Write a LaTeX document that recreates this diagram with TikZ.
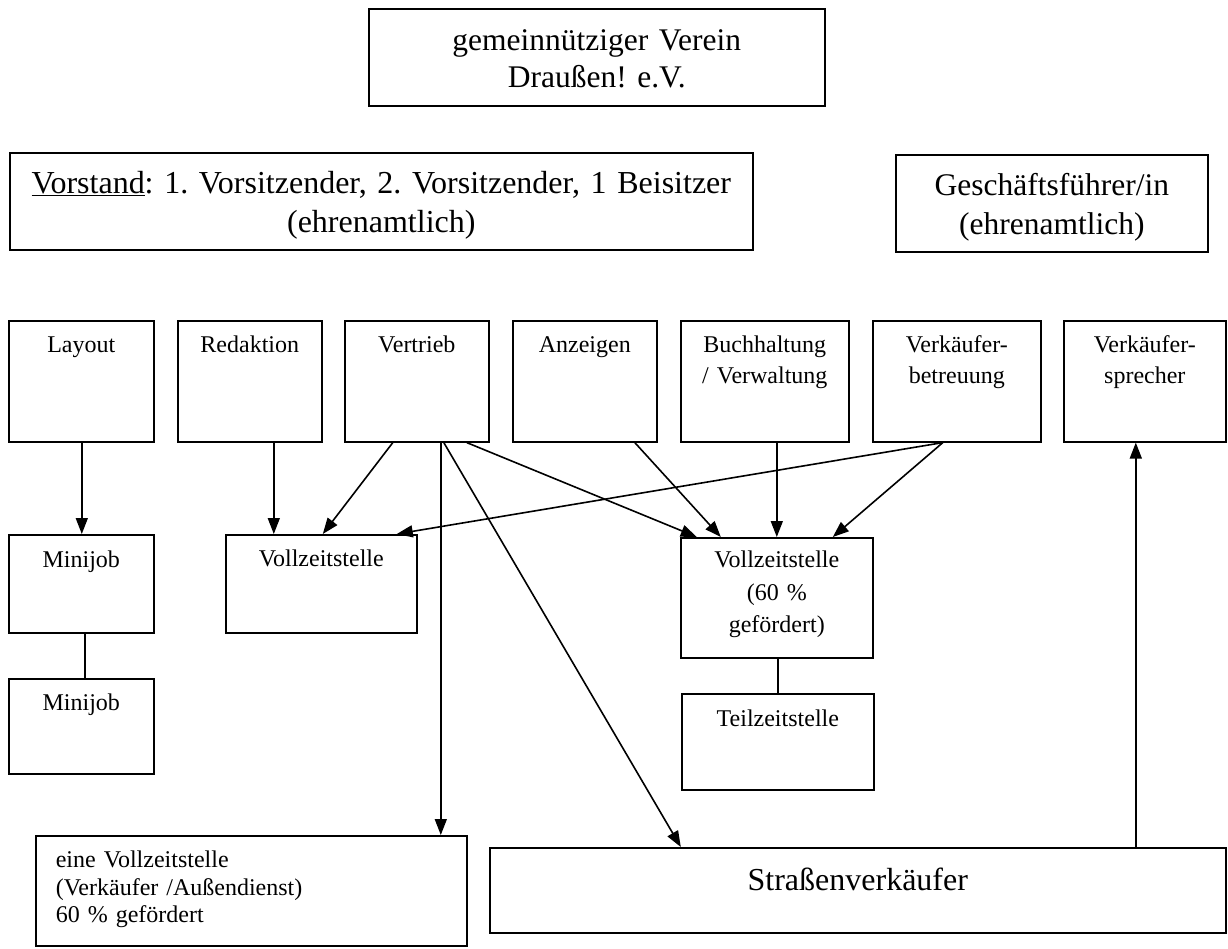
\documentclass[tikz,border=0pt]{standalone}
\usepackage{fontspec}
\setmainfont{Liberation Serif}
\frenchspacing
\usetikzlibrary{arrows.meta}

\tikzset{
  bigbox/.style={draw, line width=1.6pt, inner sep=0pt, align=center, anchor=north west, font=\fontsize{32}{39}\selectfont},
  unitbox/.style={draw, line width=1.6pt, inner sep=0pt, align=center, anchor=north west, font=\fontsize{24}{31}\selectfont},
}

\begin{document}
\begin{tikzpicture}[x=1pt, y=-1pt, line width=1.6pt, >={Triangle[length=16pt,width=12pt]}]

    \useasboundingbox (0,0) rectangle (1228,949);

    % top
    \node [bigbox, font=\fontsize{31.5}{37}\selectfont, text width=456pt, text height=42pt, text depth=55pt] at (368,8) (verein) {gemeinnütziger Verein\\Draußen! e.V.};
    \node [bigbox, text width=743pt, text height=41pt, text depth=56pt] at (9,152) (vorstand) {\underline{Vorstand}: 1. Vorsitzender, 2. Vorsitzender, 1 Beisitzer\\(ehrenamtlich)};
    \node [bigbox, font=\fontsize{31.5}{39}\selectfont, text width=312pt, text height=41pt, text depth=56pt] at (895,154) (gf) {Geschäftsführer/in\\(ehrenamtlich)};

    % departments
    \node [unitbox, text width=145pt, text height=32pt, text depth=89pt] at (8,320) (layout) {Layout};
    \node [unitbox, text width=144pt, text height=32pt, text depth=89pt] at (177,320) (redaktion) {Redaktion};
    \node [unitbox, text width=144pt, text height=32pt, text depth=89pt] at (344,320) (vertrieb) {Vertrieb};
    \node [unitbox, text width=144pt, text height=32pt, text depth=89pt] at (512,320) (anzeigen) {Anzeigen};
    \node [unitbox, text width=168pt, text height=32pt, text depth=89pt] at (680,320) (buchhaltung) {Buchhaltung\\/ Verwaltung};
    \node [unitbox, text width=168pt, text height=32pt, text depth=89pt] at (872,320) (vkbetreuung) {Verkäufer-\\betreuung};
    \node [unitbox, text width=162pt, text height=32pt, text depth=89pt] at (1063,320) (vksprecher) {Verkäufer-\\sprecher};

    % staff
    \node [unitbox, text width=145pt, text height=33pt, text depth=65pt] at (8,534) (minijobA) {Minijob};
    \node [unitbox, text width=145pt, text height=32pt, text depth=63pt] at (8,678) (minijobB) {Minijob};
    \node [unitbox, text width=191pt, text height=32pt, text depth=66pt] at (225,534) (vollzeitA) {Vollzeitstelle};
    \node [unitbox, font=\fontsize{24}{32.5}\selectfont, text width=192pt, text height=30pt, text depth=90pt] at (680,537) (vollzeitB) {Vollzeitstelle\\(60 \%\\gefördert)};
    \node [unitbox, text width=192pt, text height=33pt, text depth=63pt] at (681,693) (teilzeit) {Teilzeitstelle};
    \node [unitbox, font=\fontsize{24}{27.5}\selectfont, align=left, inner xsep=20pt, text width=391pt, text height=32pt, text depth=78pt] at (35,835) (aussendienst) {eine Vollzeitstelle\\(Verkäufer /Außendienst)\\60 \% gefördert};
    \node [bigbox, text width=736pt, text height=43pt, text depth=42pt] at (489,847) (strasse) {Straßenverkäufer};

    \path [->,draw] ([xshift=0.5pt]layout.south) -- ([xshift=0.5pt]minijobA.north);
    \path [draw] ([xshift=3.5pt]minijobA.south) -- ([xshift=3.5pt]minijobB.north);
    \path [->,draw] ([xshift=24pt]redaktion.south) -- ([xshift=-47.5pt]vollzeitA.north);

    \path [->,draw] ([xshift=-24pt]vertrieb.south) -- ([xshift=1.5pt]vollzeitA.north);
    \path [->,draw] ([xshift=24pt]vertrieb.south) -- ([xshift=24pt]vertrieb.south |- aussendienst.north);
    \path [->,draw] ([xshift=27pt]vertrieb.south) -- ([xshift=-177pt]strasse.north);
    \path [->,draw] ([xshift=50pt]vertrieb.south) -- ([xshift=-80pt]vollzeitB.north);

    \path [->,draw] ([xshift=50pt]anzeigen.south) -- ([xshift=-56pt]vollzeitB.north);
    \path [->,draw] ([xshift=12pt]buchhaltung.south) -- (vollzeitB.north);
    \path [->,draw] ([xshift=-14pt]vkbetreuung.south) -- ([xshift=56pt]vollzeitB.north);
    \path [->,draw] ([xshift=-14pt]vkbetreuung.south) -- ([xshift=75.5pt]vollzeitA.north);

    \path [draw] (teilzeit.north |- vollzeitB.south) -- (teilzeit.north);
    \path [<-,draw] ([xshift=-9pt]vksprecher.south) -- ([xshift=-9pt]vksprecher.south |- strasse.north);

\end{tikzpicture}
\end{document}
